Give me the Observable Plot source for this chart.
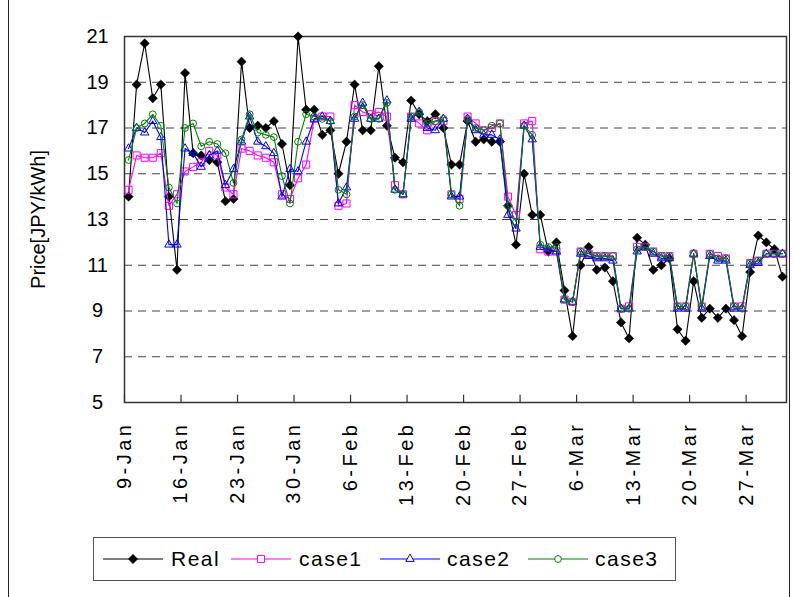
<!DOCTYPE html>
<html>
<head>
<meta charset="utf-8">
<script src="https://cdn.jsdelivr.net/npm/d3@7"></script>
<script src="https://cdn.jsdelivr.net/npm/@observablehq/plot@0.6"></script>
<style>
  html, body { margin: 0; padding: 0; background: #fff; }
  #wrap { position: relative; width: 794px; height: 597px; overflow: hidden; font-family: "Liberation Sans", Arial, sans-serif; }
  #outer { position: absolute; left: 8px; top: -2px; width: 782px; height: 601px; border-left: 1px solid #222; border-right: 1px solid #222; box-sizing: border-box; }
  #chart { position: absolute; left: 0; top: 0; }
  #legend { position: absolute; left: 93px; top: 537px; width: 583px; height: 44px; border: 1.5px solid #555; box-sizing: border-box; background: #fff; }
</style>
</head>
<body>
<div id="wrap">
  <div id="outer"></div>
  <div id="chart"></div>
  <div id="legend"></div>
</div>
<script>
// ---- data (daily, 9-Jan .. 31-Mar) ----
const startDay = "2011-01-09";
const endDayExclusive = "2011-04-01";
const seriesNames = ["Real", "case1", "case2", "case3"];
const seriesColors = ["#000000", "#ff00ff", "#0000ff", "#008000"];

const real = [14.0,18.9,20.7,18.3,18.9,14.0,10.8,19.4,15.9,15.8,15.6,15.5,13.8,13.9,
  19.9,17.0,17.1,17.0,17.3,16.3,14.5,21.0,17.8,17.8,16.7,16.9,15.0,16.4,
  18.9,16.9,16.9,19.7,17.1,15.7,15.5,18.2,17.6,17.3,17.6,17.0,15.4,15.4,
  17.3,16.4,16.5,16.4,16.4,13.6,11.9,15.0,13.2,13.2,11.6,12.0,9.9,7.9,
  11.0,11.8,10.8,10.9,10.3,8.5,7.8,12.2,11.9,10.8,11.0,11.3,8.2,7.7,
  10.3,8.7,9.1,8.7,9.1,8.6,7.9,10.7,12.3,12.0,11.7,10.5];
const case1 = [14.3,15.8,15.7,15.7,15.9,13.6,14.1,15.1,15.3,15.5,16.0,15.8,14.4,14.1,
  16.1,16.0,15.8,15.7,15.5,14.1,13.9,14.8,15.4,17.4,17.5,17.5,13.6,13.7,
  18.0,17.7,17.6,17.7,17.5,14.5,14.1,17.5,17.2,16.9,17.3,17.3,14.1,13.9,
  17.5,17.2,16.9,17.0,17.2,14.0,13.2,17.2,17.3,11.7,11.6,11.6,9.5,9.4,
  11.6,11.5,11.4,11.4,11.4,9.1,9.2,11.8,11.8,11.6,11.4,11.4,9.2,9.2,
  11.5,9.2,11.5,11.4,11.3,9.2,9.2,11.1,11.2,11.5,11.5,11.5];
const case2 = [16.1,17.0,16.8,17.3,16.6,11.9,11.9,16.1,15.9,15.3,15.8,16.0,14.5,15.2,
  16.4,17.5,16.4,16.2,15.9,14.0,15.2,15.1,16.4,17.4,17.5,17.3,13.7,14.4,
  17.4,18.1,17.4,17.4,18.2,14.3,14.1,17.4,17.7,17.0,16.9,17.4,14.0,14.0,
  17.4,16.9,16.7,16.7,16.5,13.2,12.6,17.1,16.5,11.8,11.7,11.6,9.5,9.4,
  11.5,11.4,11.3,11.3,11.2,9.1,9.1,11.6,11.8,11.5,11.3,11.3,9.1,9.1,
  11.5,9.1,11.4,11.2,11.2,9.1,9.1,11.0,11.1,11.5,11.5,11.5];
const case3 = [15.6,17.0,17.2,17.6,17.1,14.4,13.7,17.0,17.2,16.2,16.4,16.3,15.9,14.6,
  16.5,17.6,16.8,16.7,16.6,14.9,13.7,16.4,17.6,17.5,17.4,17.3,14.3,14.1,
  17.5,18.0,17.4,17.4,18.1,14.3,14.1,17.5,17.7,17.2,17.3,17.4,14.1,13.6,
  17.4,17.0,16.9,17.1,17.2,13.6,12.9,17.1,16.7,11.9,11.8,11.8,9.5,9.4,
  11.6,11.5,11.4,11.4,11.4,9.1,9.1,11.7,11.8,11.6,11.4,11.4,9.2,9.2,
  11.5,9.2,11.5,11.3,11.3,9.2,9.1,11.1,11.2,11.5,11.5,11.5];

const xTickLabels = ["9-Jan","16-Jan","23-Jan","30-Jan","6-Feb","13-Feb","20-Feb","27-Feb","6-Mar","13-Mar","20-Mar","27-Mar"];
const yTicks = [5,7,9,11,13,15,17,19,21];
const yGrid = [7,9,11,13,15,17,19];
const yTitle = "Price[JPY/kWh]";

// ---- build tables ----
const days = d3.utcDay.range(new Date(startDay), new Date(endDayExclusive));
const mid = d => new Date(+d + 12 * 3600e3);
const allSeries = [real, case1, case2, case3];
const rows = allSeries.map((arr, s) => arr.map((v, i) => ({date: mid(days[i]), value: v, series: seriesNames[s]})));
const tickData = xTickLabels.map((label, k) => ({date: days[k * 7], label}));

const symbols = ["diamond2", "square", "triangle2", "circle"];
const radii = [4.2, 4.0, 4.0, 3.4];

const marks = [];
marks.push(Plot.ruleY(yGrid, {stroke: "#444", strokeWidth: 1, strokeDasharray: "8,6"}));
marks.push(Plot.frame({stroke: "#333", strokeWidth: 1.5}));
marks.push(Plot.ruleX(tickData, {x: "date", y1: () => 5, y2: () => 5.32, stroke: "#333", strokeWidth: 1.2}));
rows.forEach((r, s) => {
  marks.push(Plot.line(r, {x: "date", y: "value", stroke: seriesColors[s], strokeWidth: 1.1}));
  marks.push(Plot.dot(r, {
    x: "date", y: "value", symbol: () => symbols[s], r: radii[s],
    stroke: seriesColors[s], strokeWidth: s === 0 ? 0.5 : 1,
    fill: s === 0 ? "#000" : "none"
  }));
});
marks.push(Plot.text(tickData, {x: "date", text: "label", frameAnchor: "bottom", dy: 19, rotate: -90, textAnchor: "end", lineAnchor: "middle", fontSize: 20}));
marks.push(Plot.text(yTicks, {y: d => d, text: d => String(d), frameAnchor: "left", dx: -27, textAnchor: "middle", lineAnchor: "middle", fontSize: 20}));
marks.push(Plot.text([yTitle], {text: d => d, frameAnchor: "left", dx: -86, rotate: -90, textAnchor: "middle", lineAnchor: "middle", fontSize: 20}));

const chart = Plot.plot({
  width: 794,
  height: 530,
  marginLeft: 124,
  marginRight: 8,
  marginTop: 36,
  marginBottom: 128,
  style: {fontFamily: "'Liberation Sans', Arial, sans-serif", fontSize: "20px", background: "transparent", color: "#000"},
  x: {type: "utc", domain: [new Date(startDay), new Date(endDayExclusive)], axis: null},
  y: {domain: [5, 21], axis: null},
  symbol: {type: "identity"},
  marks
});
document.getElementById("chart").appendChild(chart);
// widen the date labels (the original font draws a wide dash)
d3.select(chart).selectAll("text").filter(function() { return xTickLabels.includes(this.textContent); })
  .attr("letter-spacing", "3.5px");

// ---- legend ----
const legendItems = [
  {lineX: 9, textX: 77},
  {lineX: 137, textX: 205},
  {lineX: 286, textX: 353},
  {lineX: 434, textX: 501}
];
const lg = d3.select("#legend").append("svg").attr("width", 580).attr("height", 41)
  .style("font-family", "'Liberation Sans', Arial, sans-serif");
legendItems.forEach((it, s) => {
  const cy = 21;
  const cx = it.lineX + 30;
  lg.append("line").attr("x1", it.lineX).attr("x2", it.lineX + 60).attr("y1", cy).attr("y2", cy)
    .attr("stroke", seriesColors[s]).attr("stroke-width", 1.1);
  const symMap = [d3.symbolDiamond2, d3.symbolSquare, d3.symbolTriangle2, d3.symbolCircle];
  lg.append("path").attr("transform", `translate(${cx},${cy})`)
    .attr("d", d3.symbol(symMap[s], Math.PI * radii[s] * radii[s])())
    .attr("fill", s === 0 ? "#000" : "#fff").attr("stroke", seriesColors[s]).attr("stroke-width", s === 0 ? 0.5 : 1);
  lg.append("text").attr("x", it.textX).attr("y", cy).attr("dy", "0.35em")
    .attr("font-size", 21).attr("letter-spacing", "1.5px").text(seriesNames[s]);
});
</script>
</body>
</html>
